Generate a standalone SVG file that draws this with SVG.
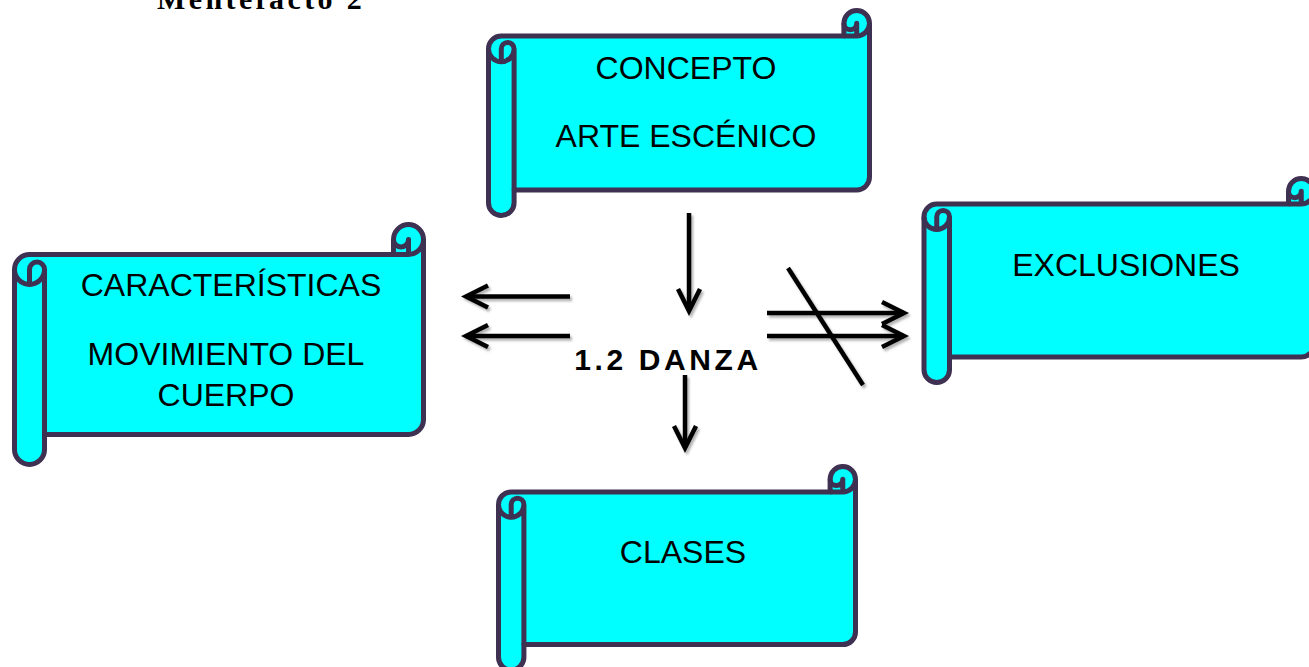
<svg xmlns="http://www.w3.org/2000/svg" width="1309" height="667" viewBox="0 0 1309 667">
<style>
.scroll{fill:#00FFFF;stroke:#3F3151;stroke-width:5;stroke-linejoin:round}
.det{fill:none;stroke:#3F3151;stroke-width:5;stroke-linejoin:round}
.lbl{font-family:"Liberation Sans",Arial,sans-serif;font-size:32px;fill:#000;text-anchor:middle}
.conn{fill:none;stroke:#000;stroke-width:4.5}
</style>
<defs>
<marker id="chev" markerUnits="userSpaceOnUse" markerWidth="40" markerHeight="40" viewBox="-30 -20 40 40" refX="0" refY="0" orient="auto" overflow="visible">
<path d="M-22,-11 L0,0 L-22,11" fill="none" stroke="#000" stroke-width="4.5" stroke-linejoin="miter"/>
</marker>
<filter id="sh" x="-20%" y="-20%" width="140%" height="140%">
<feDropShadow dx="2" dy="2.5" stdDeviation="1" flood-color="#000" flood-opacity="0.3"/>
</filter>
</defs>
<rect width="1309" height="667" fill="#fff"/>
<text x="157" y="9" font-family="'Liberation Serif','Times New Roman',serif" font-weight="bold" font-size="30" letter-spacing="3.4">Mentefacto 2</text>
<g id="concepto">
<path class="scroll" d="M488.5,48.9 A12.8,12.8 0 0 1 501.3,36.1 L843.9,36.1 L843.9,23.3 A12.8,12.8 0 0 1 869.5,23.3 L869.5,177.1 A12.8,12.8 0 0 1 856.7,189.9 L514.1,189.9 L514.1,202.7 A12.8,12.8 0 0 1 488.5,202.7 Z"/>
<path class="det" d="M843.9,36.1 L856.7,36.1 A12.8,12.8 0 0 0 869.5,23.3 M856.7,36.1 L856.7,23.3 A6.4,6.4 0 0 1 843.9,23.3 M501.3,61.7 L501.3,48.9 A6.4,6.4 0 0 1 514.1,48.9 A12.8,12.8 0 0 1 488.5,48.9 M514.1,48.9 L514.1,189.9"/>
<text class="lbl" x="686" y="79">CONCEPTO</text>
<text class="lbl" x="686" y="147">ARTE ESCÉNICO</text>
</g>
<g id="caracteristicas">
<path class="scroll" d="M14.5,269.5 A15,15 0 0 1 29.5,254.5 L393.5,254.5 L393.5,239.5 A15,15 0 0 1 423.5,239.5 L423.5,419.5 A15,15 0 0 1 408.5,434.5 L44.5,434.5 L44.5,449.5 A15,15 0 0 1 14.5,449.5 Z"/>
<path class="det" d="M393.5,254.5 L408.5,254.5 A15,15 0 0 0 423.5,239.5 M408.5,254.5 L408.5,239.5 A7.5,7.5 0 0 1 393.5,239.5 M29.5,284.5 L29.5,269.5 A7.5,7.5 0 0 1 44.5,269.5 A15,15 0 0 1 14.5,269.5 M44.5,269.5 L44.5,434.5"/>
<text class="lbl" x="231" y="296">CARACTERÍSTICAS</text>
<text class="lbl" x="226" y="365">MOVIMIENTO DEL</text>
<text class="lbl" x="226" y="406">CUERPO</text>
</g>
<g id="exclusiones">
<path class="scroll" d="M924,216.75 A12.75,12.75 0 0 1 936.75,204 L1288.5,204 L1288.5,191.25 A12.75,12.75 0 0 1 1314,191.25 L1314,344.25 A12.75,12.75 0 0 1 1301.25,357 L949.5,357 L949.5,369.75 A12.75,12.75 0 0 1 924,369.75 Z"/>
<path class="det" d="M1288.5,204 L1301.25,204 A12.75,12.75 0 0 0 1314,191.25 M1301.25,204 L1301.25,191.25 A6.375,6.375 0 0 1 1288.5,191.25 M936.75,229.5 L936.75,216.75 A6.375,6.375 0 0 1 949.5,216.75 A12.75,12.75 0 0 1 924,216.75 M949.5,216.75 L949.5,357"/>
<text class="lbl" x="1126" y="276">EXCLUSIONES</text>
</g>
<g id="clases">
<path class="scroll" d="M498.5,504.6 A12.7,12.7 0 0 1 511.2,491.9 L830.1,491.9 L830.1,479.2 A12.7,12.7 0 0 1 855.5,479.2 L855.5,631.9 A12.7,12.7 0 0 1 842.8,644.6 L523.9,644.6 L523.9,657.3 A12.7,12.7 0 0 1 498.5,657.3 Z"/>
<path class="det" d="M830.1,491.9 L842.8,491.9 A12.7,12.7 0 0 0 855.5,479.2 M842.8,491.9 L842.8,479.2 A6.35,6.35 0 0 1 830.1,479.2 M511.2,517.3 L511.2,504.6 A6.35,6.35 0 0 1 523.9,504.6 A12.7,12.7 0 0 1 498.5,504.6 M523.9,504.6 L523.9,644.6"/>
<text class="lbl" x="683" y="563">CLASES</text>
</g>
<g id="danza">
<text x="668" y="370" font-family="'Liberation Sans',Arial,sans-serif" font-weight="bold" font-size="30" letter-spacing="3.6" text-anchor="middle">1.2 DANZA</text>
</g>
<g id="connectors" filter="url(#sh)">
<line class="conn" x1="689" y1="213" x2="689" y2="311" marker-end="url(#chev)"/>
<line class="conn" x1="570" y1="296.5" x2="466" y2="296.5" marker-end="url(#chev)"/>
<line class="conn" x1="570" y1="336" x2="466" y2="336" marker-end="url(#chev)"/>
<line class="conn" x1="767" y1="313" x2="904" y2="313" marker-end="url(#chev)"/>
<line class="conn" x1="767" y1="336" x2="904" y2="336" marker-end="url(#chev)"/>
<line class="conn" x1="788" y1="268" x2="863" y2="385"/>
<line class="conn" x1="685" y1="375" x2="685" y2="448" marker-end="url(#chev)"/>
</g>
</svg>
